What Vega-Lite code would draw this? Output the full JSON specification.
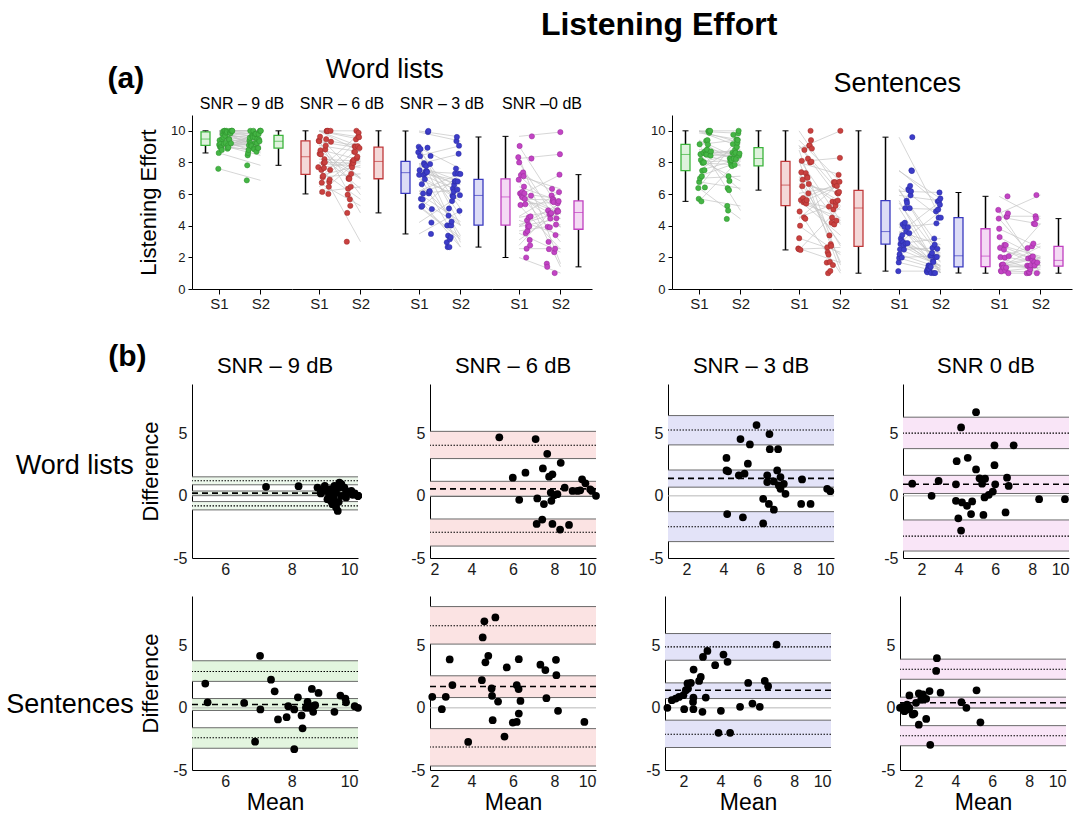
{
"$schema":"https://vega.github.io/schema/vega-lite/v6.json",
"background":"white",
"padding":{"left":6,"top":9,"right":5,"bottom":2},
"config":{"font":"Liberation Sans","view":{"stroke":null},
"axis":{"grid":false,"domainColor":"#000","labelColor":"#1a1a1a","labelFontSize":13,"titleFontSize":20,"titleFontWeight":"normal","titleColor":"#000","tickColor":"#000"},
"title":{"fontWeight":"normal","color":"#000"}},
"title":{"text":"Listening Effort","fontSize":32,"fontWeight":"bold","anchor":"middle","dx":120,"offset":14},
"datasets":{
"stats":[
{"task":"W","snr":9,"bias":0.22,"bLo":0.05,"bHi":0.39,"uLo":0.89,"u":1.21,"uHi":1.53,"lLo":-1.13,"l":-0.81,"lHi":-0.46},
{"task":"W","snr":6,"bias":0.56,"bLo":-0.05,"bHi":1.17,"uLo":3.0,"u":4.07,"uHi":5.19,"lLo":-4.04,"l":-2.93,"lHi":-1.86},
{"task":"W","snr":3,"bias":1.41,"bLo":0.7,"bHi":2.08,"uLo":4.1,"u":5.3,"uHi":6.46,"lLo":-3.68,"l":-2.49,"lHi":-1.27},
{"task":"W","snr":0,"bias":0.93,"bLo":0.19,"bHi":1.65,"uLo":3.8,"u":5.05,"uHi":6.33,"lLo":-4.44,"l":-3.24,"lHi":-1.94},
{"task":"S","snr":9,"bias":0.27,"bLo":-0.21,"bHi":0.75,"uLo":2.13,"u":2.93,"uHi":3.79,"lLo":-3.25,"l":-2.4,"lHi":-1.6},
{"task":"S","snr":6,"bias":1.72,"bLo":0.83,"bHi":2.58,"uLo":5.13,"u":6.61,"uHi":8.15,"lLo":-4.68,"l":-3.15,"lHi":-1.67},
{"task":"S","snr":3,"bias":1.42,"bLo":0.75,"bHi":2.01,"uLo":3.83,"u":4.91,"uHi":5.98,"lLo":-3.19,"l":-2.12,"lHi":-0.99},
{"task":"S","snr":0,"bias":0.41,"bLo":-0.02,"bHi":0.86,"uLo":2.3,"u":3.11,"uHi":3.92,"lLo":-3.05,"l":-2.24,"lHi":-1.43}
],
"pairs":[
{"task":"W","snr":9,"subj":1,"mean":7.23,"diff":0.73,"S1":7.6,"S2":6.87},
{"task":"W","snr":9,"subj":2,"mean":8.21,"diff":0.78,"S1":8.6,"S2":7.82},
{"task":"W","snr":9,"subj":3,"mean":8.78,"diff":0.67,"S1":9.12,"S2":8.45},
{"task":"W","snr":9,"subj":4,"mean":9.0,"diff":0.8,"S1":9.4,"S2":8.6},
{"task":"W","snr":9,"subj":5,"mean":8.88,"diff":0.19,"S1":8.98,"S2":8.79},
{"task":"W","snr":9,"subj":6,"mean":9.13,"diff":0.08,"S1":9.17,"S2":9.09},
{"task":"W","snr":9,"subj":7,"mean":9.18,"diff":-0.4,"S1":8.98,"S2":9.38},
{"task":"W","snr":9,"subj":8,"mean":9.23,"diff":-0.67,"S1":8.9,"S2":9.57},
{"task":"W","snr":9,"subj":9,"mean":9.39,"diff":-1.21,"S1":8.79,"S2":10.0},
{"task":"W","snr":9,"subj":10,"mean":9.34,"diff":0.27,"S1":9.48,"S2":9.21},
{"task":"W","snr":9,"subj":11,"mean":9.44,"diff":0.67,"S1":9.78,"S2":9.11},
{"task":"W","snr":9,"subj":12,"mean":9.5,"diff":0.94,"S1":9.97,"S2":9.03},
{"task":"W","snr":9,"subj":13,"mean":9.64,"diff":-0.13,"S1":9.58,"S2":9.71},
{"task":"W","snr":9,"subj":14,"mean":9.42,"diff":-0.48,"S1":9.18,"S2":9.66},
{"task":"W","snr":9,"subj":15,"mean":9.8,"diff":0.4,"S1":10.0,"S2":9.6},
{"task":"W","snr":9,"subj":16,"mean":10.0,"diff":0,"S1":10,"S2":10},
{"task":"W","snr":9,"subj":17,"mean":9.29,"diff":0.8,"S1":9.69,"S2":8.89},
{"task":"W","snr":9,"subj":18,"mean":9.03,"diff":0.4,"S1":9.23,"S2":8.83},
{"task":"W","snr":9,"subj":19,"mean":9.74,"diff":0.27,"S1":9.88,"S2":9.61},
{"task":"W","snr":9,"subj":20,"mean":9.9,"diff":0.2,"S1":10.0,"S2":9.8},
{"task":"W","snr":9,"subj":21,"mean":9.59,"diff":0.67,"S1":9.93,"S2":9.26},
{"task":"W","snr":9,"subj":22,"mean":9.34,"diff":-0.94,"S1":8.87,"S2":9.81},
{"task":"W","snr":9,"subj":23,"mean":8.88,"diff":0.4,"S1":9.08,"S2":8.68},
{"task":"W","snr":9,"subj":24,"mean":9.08,"diff":-0.27,"S1":8.95,"S2":9.22},
{"task":"W","snr":9,"subj":25,"mean":9.49,"diff":0,"S1":9.49,"S2":9.49},
{"task":"W","snr":9,"subj":26,"mean":9.18,"diff":0.54,"S1":9.45,"S2":8.91},
{"task":"W","snr":9,"subj":27,"mean":9.44,"diff":1.07,"S1":9.98,"S2":8.91},
{"task":"W","snr":9,"subj":28,"mean":9.84,"diff":0.08,"S1":9.88,"S2":9.8},
{"task":"W","snr":9,"subj":29,"mean":9.64,"diff":0.4,"S1":9.84,"S2":9.44},
{"task":"W","snr":9,"subj":30,"mean":9.27,"diff":-0.13,"S1":9.21,"S2":9.34},
{"task":"W","snr":9,"subj":31,"mean":10.0,"diff":0,"S1":10,"S2":10},
{"task":"W","snr":9,"subj":32,"mean":10.0,"diff":0,"S1":10,"S2":10},
{"task":"W","snr":9,"subj":33,"mean":10.0,"diff":0,"S1":10,"S2":10},
{"task":"W","snr":6,"subj":1,"mean":5.34,"diff":4.71,"S1":7.7,"S2":2.99},
{"task":"W","snr":6,"subj":2,"mean":7.09,"diff":4.57,"S1":9.38,"S2":4.81},
{"task":"W","snr":6,"subj":3,"mean":7.65,"diff":3.38,"S1":9.34,"S2":5.96},
{"task":"W","snr":6,"subj":4,"mean":7.44,"diff":2.21,"S1":8.55,"S2":6.34},
{"task":"W","snr":6,"subj":5,"mean":8.3,"diff":2.66,"S1":9.63,"S2":6.97},
{"task":"W","snr":6,"subj":6,"mean":7.9,"diff":1.73,"S1":8.77,"S2":7.04},
{"task":"W","snr":6,"subj":7,"mean":7.74,"diff":1.54,"S1":8.51,"S2":6.97},
{"task":"W","snr":6,"subj":8,"mean":6.6,"diff":1.86,"S1":7.53,"S2":5.67},
{"task":"W","snr":6,"subj":9,"mean":5.99,"diff":1.46,"S1":6.72,"S2":5.26},
{"task":"W","snr":6,"subj":10,"mean":6.3,"diff":-0.32,"S1":6.14,"S2":6.46},
{"task":"W","snr":6,"subj":11,"mean":7.17,"diff":-0.21,"S1":7.07,"S2":7.28},
{"task":"W","snr":6,"subj":12,"mean":7.49,"diff":-0.66,"S1":7.16,"S2":7.82},
{"task":"W","snr":6,"subj":13,"mean":7.82,"diff":0.27,"S1":7.96,"S2":7.69},
{"task":"W","snr":6,"subj":14,"mean":7.85,"diff":-0.4,"S1":7.65,"S2":8.05},
{"task":"W","snr":6,"subj":15,"mean":8.14,"diff":0.13,"S1":8.21,"S2":8.08},
{"task":"W","snr":6,"subj":16,"mean":7.98,"diff":0.05,"S1":8.01,"S2":7.96},
{"task":"W","snr":6,"subj":17,"mean":8.49,"diff":0.66,"S1":8.82,"S2":8.16},
{"task":"W","snr":6,"subj":18,"mean":8.87,"diff":0.4,"S1":9.07,"S2":8.67},
{"task":"W","snr":6,"subj":19,"mean":9.24,"diff":0.45,"S1":9.47,"S2":9.02},
{"task":"W","snr":6,"subj":20,"mean":9.33,"diff":1.33,"S1":9.99,"S2":8.67},
{"task":"W","snr":6,"subj":21,"mean":9.49,"diff":1.01,"S1":9.99,"S2":8.99},
{"task":"W","snr":6,"subj":22,"mean":9.72,"diff":0.53,"S1":9.99,"S2":9.46},
{"task":"W","snr":6,"subj":23,"mean":10.0,"diff":0,"S1":10,"S2":10},
{"task":"W","snr":6,"subj":24,"mean":7.14,"diff":-2.26,"S1":6.01,"S2":8.27},
{"task":"W","snr":6,"subj":25,"mean":7.41,"diff":-1.91,"S1":6.46,"S2":8.37},
{"task":"W","snr":6,"subj":26,"mean":7.9,"diff":-2.26,"S1":6.77,"S2":9.03},
{"task":"W","snr":6,"subj":27,"mean":8.27,"diff":-2.71,"S1":6.92,"S2":9.63},
{"task":"W","snr":6,"subj":28,"mean":8.7,"diff":-2.34,"S1":7.53,"S2":9.87},
{"task":"W","snr":6,"subj":29,"mean":9.8,"diff":0.4,"S1":10,"S2":9.6},
{"task":"W","snr":6,"subj":30,"mean":9.11,"diff":0.4,"S1":9.31,"S2":8.91},
{"task":"W","snr":3,"subj":1,"mean":5.8,"diff":5.7,"S1":8.65,"S2":2.95},
{"task":"W","snr":3,"subj":2,"mean":6.5,"diff":4.97,"S1":8.99,"S2":4.02},
{"task":"W","snr":3,"subj":3,"mean":4.93,"diff":4.57,"S1":7.22,"S2":2.65},
{"task":"W","snr":3,"subj":4,"mean":5.44,"diff":4.14,"S1":7.51,"S2":3.37},
{"task":"W","snr":3,"subj":5,"mean":6.52,"diff":3.76,"S1":8.4,"S2":4.64},
{"task":"W","snr":3,"subj":6,"mean":6.97,"diff":3.76,"S1":8.85,"S2":5.09},
{"task":"W","snr":3,"subj":7,"mean":4.17,"diff":3.05,"S1":5.7,"S2":2.65},
{"task":"W","snr":3,"subj":8,"mean":4.17,"diff":2.05,"S1":5.2,"S2":3.15},
{"task":"W","snr":3,"subj":9,"mean":5.33,"diff":2.59,"S1":6.63,"S2":4.04},
{"task":"W","snr":3,"subj":10,"mean":4.26,"diff":1.97,"S1":5.25,"S2":3.28},
{"task":"W","snr":3,"subj":11,"mean":4.84,"diff":1.65,"S1":5.67,"S2":4.02},
{"task":"W","snr":3,"subj":12,"mean":5.15,"diff":1.78,"S1":6.04,"S2":4.26},
{"task":"W","snr":3,"subj":13,"mean":6.38,"diff":1.65,"S1":7.21,"S2":5.56},
{"task":"W","snr":3,"subj":14,"mean":6.92,"diff":2.05,"S1":7.95,"S2":5.9},
{"task":"W","snr":3,"subj":15,"mean":7.1,"diff":1.51,"S1":7.86,"S2":6.35},
{"task":"W","snr":3,"subj":16,"mean":6.38,"diff":1.11,"S1":6.94,"S2":5.83},
{"task":"W","snr":3,"subj":17,"mean":6.74,"diff":1.16,"S1":7.32,"S2":6.16},
{"task":"W","snr":3,"subj":18,"mean":7.01,"diff":0.84,"S1":7.43,"S2":6.59},
{"task":"W","snr":3,"subj":19,"mean":7.28,"diff":0.97,"S1":7.77,"S2":6.8},
{"task":"W","snr":3,"subj":20,"mean":7.37,"diff":0.16,"S1":7.45,"S2":7.29},
{"task":"W","snr":3,"subj":21,"mean":7.1,"diff":0.57,"S1":7.39,"S2":6.82},
{"task":"W","snr":3,"subj":22,"mean":8.27,"diff":1.32,"S1":8.93,"S2":7.61},
{"task":"W","snr":3,"subj":23,"mean":9.63,"diff":0.57,"S1":9.92,"S2":9.35},
{"task":"W","snr":3,"subj":24,"mean":9.8,"diff":0.38,"S1":9.99,"S2":9.61},
{"task":"W","snr":3,"subj":25,"mean":6.16,"diff":-0.24,"S1":6.04,"S2":6.28},
{"task":"W","snr":3,"subj":26,"mean":6.47,"diff":-0.65,"S1":6.15,"S2":6.8},
{"task":"W","snr":3,"subj":27,"mean":6.74,"diff":-1.11,"S1":6.19,"S2":7.3},
{"task":"W","snr":3,"subj":28,"mean":8.22,"diff":-0.65,"S1":7.9,"S2":8.55},
{"task":"W","snr":3,"subj":29,"mean":8.73,"diff":-0.65,"S1":8.41,"S2":9.06},
{"task":"W","snr":3,"subj":30,"mean":4.21,"diff":-1.46,"S1":3.48,"S2":4.94},
{"task":"W","snr":3,"subj":31,"mean":5.06,"diff":-1.73,"S1":4.2,"S2":5.93},
{"task":"W","snr":3,"subj":32,"mean":6.16,"diff":-2.22,"S1":5.05,"S2":7.27},
{"task":"W","snr":0,"subj":1,"mean":4.96,"diff":6.73,"S1":8.33,"S2":1.6},
{"task":"W","snr":0,"subj":2,"mean":4.15,"diff":5.51,"S1":6.91,"S2":1.4},
{"task":"W","snr":0,"subj":3,"mean":5.96,"diff":4.07,"S1":8.0,"S2":3.93},
{"task":"W","snr":0,"subj":4,"mean":7.0,"diff":4.07,"S1":9.04,"S2":4.97},
{"task":"W","snr":0,"subj":5,"mean":4.51,"diff":3.06,"S1":6.04,"S2":2.98},
{"task":"W","snr":0,"subj":6,"mean":3.91,"diff":2.79,"S1":5.31,"S2":2.52},
{"task":"W","snr":0,"subj":7,"mean":5.96,"diff":2.47,"S1":7.2,"S2":4.73},
{"task":"W","snr":0,"subj":8,"mean":4.96,"diff":2.13,"S1":6.03,"S2":3.9},
{"task":"W","snr":0,"subj":9,"mean":5.15,"diff":1.41,"S1":5.86,"S2":4.45},
{"task":"W","snr":0,"subj":10,"mean":5.45,"diff":1.38,"S1":6.14,"S2":4.76},
{"task":"W","snr":0,"subj":11,"mean":5.29,"diff":0.98,"S1":5.78,"S2":4.8},
{"task":"W","snr":0,"subj":12,"mean":6.64,"diff":1.46,"S1":7.37,"S2":5.91},
{"task":"W","snr":0,"subj":13,"mean":6.73,"diff":0.8,"S1":7.13,"S2":6.33},
{"task":"W","snr":0,"subj":14,"mean":6.0,"diff":0.93,"S1":6.47,"S2":5.54},
{"task":"W","snr":0,"subj":15,"mean":5.87,"diff":0.35,"S1":6.05,"S2":5.7},
{"task":"W","snr":0,"subj":16,"mean":5.65,"diff":0.08,"S1":5.69,"S2":5.61},
{"task":"W","snr":0,"subj":17,"mean":5.42,"diff":-0.13,"S1":5.36,"S2":5.49},
{"task":"W","snr":0,"subj":18,"mean":2.93,"diff":1.2,"S1":3.53,"S2":2.33},
{"task":"W","snr":0,"subj":19,"mean":1.5,"diff":0.98,"S1":1.99,"S2":1.01},
{"task":"W","snr":0,"subj":20,"mean":2.55,"diff":0,"S1":2.55,"S2":2.55},
{"task":"W","snr":0,"subj":21,"mean":3.87,"diff":0.93,"S1":4.34,"S2":3.41},
{"task":"W","snr":0,"subj":22,"mean":3.87,"diff":-0.4,"S1":3.67,"S2":4.07},
{"task":"W","snr":0,"subj":23,"mean":4.2,"diff":-0.53,"S1":3.94,"S2":4.47},
{"task":"W","snr":0,"subj":24,"mean":4.47,"diff":-0.8,"S1":4.07,"S2":4.87},
{"task":"W","snr":0,"subj":25,"mean":4.75,"diff":-0.45,"S1":4.53,"S2":4.98},
{"task":"W","snr":0,"subj":26,"mean":4.69,"diff":-1.46,"S1":3.96,"S2":5.42},
{"task":"W","snr":0,"subj":27,"mean":4.0,"diff":-1.81,"S1":3.1,"S2":4.91},
{"task":"W","snr":0,"subj":28,"mean":4.15,"diff":-2.79,"S1":2.76,"S2":5.55},
{"task":"W","snr":0,"subj":29,"mean":5.36,"diff":-1.54,"S1":4.59,"S2":6.13},
{"task":"W","snr":0,"subj":30,"mean":6.56,"diff":-1.33,"S1":5.9,"S2":7.23},
{"task":"W","snr":0,"subj":31,"mean":8.38,"diff":-0.27,"S1":8.25,"S2":8.52},
{"task":"W","snr":0,"subj":32,"mean":9.78,"diff":-0.27,"S1":9.65,"S2":9.92},
{"task":"S","snr":9,"subj":1,"mean":5.4,"diff":1.95,"S1":6.38,"S2":4.43},
{"task":"S","snr":9,"subj":2,"mean":5.47,"diff":0.45,"S1":5.7,"S2":5.25},
{"task":"S","snr":9,"subj":3,"mean":6.57,"diff":0.4,"S1":6.77,"S2":6.37},
{"task":"S","snr":9,"subj":4,"mean":7.05,"diff":4.19,"S1":9.15,"S2":4.96},
{"task":"S","snr":9,"subj":5,"mean":7.06,"diff":-0.13,"S1":7.0,"S2":7.13},
{"task":"S","snr":9,"subj":6,"mean":7.38,"diff":2.27,"S1":8.52,"S2":6.25},
{"task":"S","snr":9,"subj":7,"mean":7.49,"diff":1.33,"S1":8.16,"S2":6.83},
{"task":"S","snr":9,"subj":8,"mean":6.9,"diff":-2.72,"S1":5.54,"S2":8.26},
{"task":"S","snr":9,"subj":9,"mean":7.59,"diff":-0.93,"S1":7.13,"S2":8.06},
{"task":"S","snr":9,"subj":10,"mean":7.85,"diff":-0.75,"S1":7.48,"S2":8.23},
{"task":"S","snr":9,"subj":11,"mean":7.9,"diff":0.13,"S1":7.97,"S2":7.84},
{"task":"S","snr":9,"subj":12,"mean":8.08,"diff":-0.13,"S1":8.02,"S2":8.15},
{"task":"S","snr":9,"subj":13,"mean":8.19,"diff":0.85,"S1":8.62,"S2":7.77},
{"task":"S","snr":9,"subj":14,"mean":8.3,"diff":-0.61,"S1":8.0,"S2":8.61},
{"task":"S","snr":9,"subj":15,"mean":8.33,"diff":-1.65,"S1":7.51,"S2":9.16},
{"task":"S","snr":9,"subj":16,"mean":8.08,"diff":-3.33,"S1":6.42,"S2":9.75},
{"task":"S","snr":9,"subj":17,"mean":8.48,"diff":0.48,"S1":8.72,"S2":8.24},
{"task":"S","snr":9,"subj":18,"mean":8.53,"diff":0,"S1":8.53,"S2":8.53},
{"task":"S","snr":9,"subj":19,"mean":8.61,"diff":1.52,"S1":9.37,"S2":7.85},
{"task":"S","snr":9,"subj":20,"mean":8.65,"diff":-0.32,"S1":8.49,"S2":8.81},
{"task":"S","snr":9,"subj":21,"mean":8.71,"diff":0.21,"S1":8.82,"S2":8.61},
{"task":"S","snr":9,"subj":22,"mean":8.81,"diff":1.2,"S1":9.41,"S2":8.21},
{"task":"S","snr":9,"subj":23,"mean":9.29,"diff":-0.32,"S1":9.13,"S2":9.45},
{"task":"S","snr":9,"subj":24,"mean":9.47,"diff":0.99,"S1":9.97,"S2":8.98},
{"task":"S","snr":9,"subj":25,"mean":9.62,"diff":0.75,"S1":10.0,"S2":9.25},
{"task":"S","snr":9,"subj":26,"mean":9.64,"diff":0.45,"S1":9.87,"S2":9.42},
{"task":"S","snr":9,"subj":27,"mean":9.9,"diff":0.13,"S1":9.97,"S2":9.84},
{"task":"S","snr":9,"subj":28,"mean":10.0,"diff":0,"S1":10,"S2":10},
{"task":"S","snr":9,"subj":29,"mean":8.43,"diff":0,"S1":8.43,"S2":8.43},
{"task":"S","snr":9,"subj":30,"mean":8.63,"diff":0.13,"S1":8.7,"S2":8.57},
{"task":"S","snr":6,"subj":1,"mean":2.11,"diff":0.89,"S1":2.56,"S2":1.67},
{"task":"S","snr":6,"subj":2,"mean":2.57,"diff":-0.11,"S1":2.52,"S2":2.63},
{"task":"S","snr":6,"subj":3,"mean":2.76,"diff":0.89,"S1":3.21,"S2":2.32},
{"task":"S","snr":6,"subj":4,"mean":2.95,"diff":3.9,"S1":4.9,"S2":1.0},
{"task":"S","snr":6,"subj":5,"mean":3.08,"diff":1.83,"S1":4.0,"S2":2.17},
{"task":"S","snr":6,"subj":6,"mean":3.84,"diff":-2.74,"S1":2.47,"S2":5.21},
{"task":"S","snr":6,"subj":7,"mean":4.5,"diff":2.23,"S1":5.62,"S2":3.39},
{"task":"S","snr":6,"subj":8,"mean":4.54,"diff":5.67,"S1":7.38,"S2":1.71},
{"task":"S","snr":6,"subj":9,"mean":4.62,"diff":6.96,"S1":8.1,"S2":1.14},
{"task":"S","snr":6,"subj":10,"mean":4.67,"diff":3.66,"S1":6.5,"S2":2.84},
{"task":"S","snr":6,"subj":11,"mean":4.81,"diff":4.19,"S1":6.91,"S2":2.72},
{"task":"S","snr":6,"subj":12,"mean":4.97,"diff":1.56,"S1":5.75,"S2":4.19},
{"task":"S","snr":6,"subj":13,"mean":4.99,"diff":0.97,"S1":5.48,"S2":4.51},
{"task":"S","snr":6,"subj":14,"mean":5.02,"diff":-0.99,"S1":4.53,"S2":5.52},
{"task":"S","snr":6,"subj":15,"mean":5.15,"diff":7.28,"S1":8.79,"S2":1.51},
{"task":"S","snr":6,"subj":16,"mean":5.28,"diff":0.51,"S1":5.54,"S2":5.03},
{"task":"S","snr":6,"subj":17,"mean":5.59,"diff":-2.31,"S1":4.44,"S2":6.75},
{"task":"S","snr":6,"subj":18,"mean":5.7,"diff":3.25,"S1":7.33,"S2":4.08},
{"task":"S","snr":6,"subj":19,"mean":5.99,"diff":-1.18,"S1":5.4,"S2":6.58},
{"task":"S","snr":6,"subj":20,"mean":6.18,"diff":-1.13,"S1":5.62,"S2":6.75},
{"task":"S","snr":6,"subj":21,"mean":6.18,"diff":1.83,"S1":7.1,"S2":5.27},
{"task":"S","snr":6,"subj":22,"mean":6.27,"diff":1.51,"S1":7.03,"S2":5.52},
{"task":"S","snr":6,"subj":23,"mean":6.28,"diff":3.92,"S1":8.24,"S2":4.32},
{"task":"S","snr":6,"subj":24,"mean":6.28,"diff":-0.46,"S1":6.05,"S2":6.51},
{"task":"S","snr":6,"subj":25,"mean":6.36,"diff":0.56,"S1":6.64,"S2":6.08},
{"task":"S","snr":6,"subj":26,"mean":7.32,"diff":3.47,"S1":9.06,"S2":5.59},
{"task":"S","snr":6,"subj":27,"mean":7.56,"diff":3.04,"S1":9.08,"S2":6.04},
{"task":"S","snr":6,"subj":28,"mean":7.61,"diff":0.78,"S1":8.0,"S2":7.22},
{"task":"S","snr":6,"subj":29,"mean":8.07,"diff":3.87,"S1":10.0,"S2":6.14},
{"task":"S","snr":6,"subj":30,"mean":8.09,"diff":2.63,"S1":9.41,"S2":6.78},
{"task":"S","snr":6,"subj":31,"mean":8.17,"diff":-0.24,"S1":8.05,"S2":8.29},
{"task":"S","snr":6,"subj":32,"mean":9.44,"diff":-1.13,"S1":8.88,"S2":10.0},
{"task":"S","snr":3,"subj":1,"mean":1.13,"diff":0,"S1":1.13,"S2":1.13},
{"task":"S","snr":3,"subj":2,"mean":1.37,"diff":0.62,"S1":1.68,"S2":1.06},
{"task":"S","snr":3,"subj":3,"mean":1.58,"diff":0.75,"S1":1.96,"S2":1.21},
{"task":"S","snr":3,"subj":4,"mean":1.76,"diff":0.88,"S1":2.2,"S2":1.32},
{"task":"S","snr":3,"subj":5,"mean":2.0,"diff":1.02,"S1":2.51,"S2":1.49},
{"task":"S","snr":3,"subj":6,"mean":2.13,"diff":1.42,"S1":2.84,"S2":1.42},
{"task":"S","snr":3,"subj":7,"mean":2.22,"diff":1.96,"S1":3.2,"S2":1.24},
{"task":"S","snr":3,"subj":8,"mean":2.25,"diff":1.55,"S1":3.03,"S2":1.48},
{"task":"S","snr":3,"subj":9,"mean":2.04,"diff":-0.11,"S1":1.99,"S2":2.1},
{"task":"S","snr":3,"subj":10,"mean":2.4,"diff":2.01,"S1":3.41,"S2":1.4},
{"task":"S","snr":3,"subj":11,"mean":2.55,"diff":3.08,"S1":4.09,"S2":1.01},
{"task":"S","snr":3,"subj":12,"mean":2.54,"diff":0.83,"S1":2.96,"S2":2.13},
{"task":"S","snr":3,"subj":13,"mean":2.52,"diff":0.48,"S1":2.76,"S2":2.28},
{"task":"S","snr":3,"subj":14,"mean":2.54,"diff":-0.11,"S1":2.49,"S2":2.6},
{"task":"S","snr":3,"subj":15,"mean":2.85,"diff":2.17,"S1":3.94,"S2":1.77},
{"task":"S","snr":3,"subj":16,"mean":2.94,"diff":2.49,"S1":4.19,"S2":1.7},
{"task":"S","snr":3,"subj":17,"mean":3.06,"diff":4.1,"S1":5.11,"S2":1.01},
{"task":"S","snr":3,"subj":18,"mean":3.03,"diff":-0.32,"S1":2.87,"S2":3.19},
{"task":"S","snr":3,"subj":19,"mean":3.21,"diff":0.83,"S1":3.63,"S2":2.8},
{"task":"S","snr":3,"subj":20,"mean":3.3,"diff":4.58,"S1":5.59,"S2":1.01},
{"task":"S","snr":3,"subj":21,"mean":3.72,"diff":3.43,"S1":5.44,"S2":2.01},
{"task":"S","snr":3,"subj":22,"mean":3.9,"diff":-2.01,"S1":2.9,"S2":4.91},
{"task":"S","snr":3,"subj":23,"mean":4.03,"diff":-0.24,"S1":3.91,"S2":4.15},
{"task":"S","snr":3,"subj":24,"mean":4.17,"diff":4.29,"S1":6.32,"S2":2.03},
{"task":"S","snr":3,"subj":25,"mean":4.39,"diff":3.7,"S1":6.24,"S2":2.54},
{"task":"S","snr":3,"subj":26,"mean":4.53,"diff":-2.01,"S1":3.53,"S2":5.54},
{"task":"S","snr":3,"subj":27,"mean":5.07,"diff":0.08,"S1":5.11,"S2":5.03},
{"task":"S","snr":3,"subj":28,"mean":5.51,"diff":2.01,"S1":6.52,"S2":4.51},
{"task":"S","snr":3,"subj":29,"mean":5.74,"diff":0.35,"S1":5.92,"S2":5.57},
{"task":"S","snr":3,"subj":30,"mean":6.14,"diff":0.08,"S1":6.18,"S2":6.1},
{"task":"S","snr":3,"subj":31,"mean":6.41,"diff":2.17,"S1":7.5,"S2":5.33},
{"task":"S","snr":3,"subj":32,"mean":6.59,"diff":1.74,"S1":7.46,"S2":5.72},
{"task":"S","snr":3,"subj":33,"mean":7.05,"diff":5.09,"S1":9.6,"S2":4.51},
{"task":"S","snr":0,"subj":1,"mean":3.0,"diff":4.0,"S1":5.0,"S2":1.0},
{"task":"S","snr":0,"subj":2,"mean":2.96,"diff":2.97,"S1":4.45,"S2":1.48},
{"task":"S","snr":0,"subj":3,"mean":3.2,"diff":1.22,"S1":3.81,"S2":2.59},
{"task":"S","snr":0,"subj":4,"mean":2.6,"diff":1.35,"S1":3.28,"S2":1.93},
{"task":"S","snr":0,"subj":5,"mean":2.02,"diff":1.16,"S1":2.6,"S2":1.44},
{"task":"S","snr":0,"subj":6,"mean":1.51,"diff":1.0,"S1":2.01,"S2":1.01},
{"task":"S","snr":0,"subj":7,"mean":1.11,"diff":0.08,"S1":1.15,"S2":1.07},
{"task":"S","snr":0,"subj":8,"mean":1.24,"diff":-0.27,"S1":1.11,"S2":1.38},
{"task":"S","snr":0,"subj":9,"mean":1.38,"diff":0.27,"S1":1.52,"S2":1.25},
{"task":"S","snr":0,"subj":10,"mean":1.51,"diff":0,"S1":1.51,"S2":1.51},
{"task":"S","snr":0,"subj":11,"mean":1.69,"diff":-0.54,"S1":1.42,"S2":1.96},
{"task":"S","snr":0,"subj":12,"mean":1.78,"diff":-0.46,"S1":1.55,"S2":2.01},
{"task":"S","snr":0,"subj":13,"mean":2.02,"diff":-1.35,"S1":1.35,"S2":2.7},
{"task":"S","snr":0,"subj":14,"mean":2.15,"diff":0.68,"S1":2.49,"S2":1.81},
{"task":"S","snr":0,"subj":15,"mean":2.42,"diff":0.73,"S1":2.79,"S2":2.06},
{"task":"S","snr":0,"subj":16,"mean":2.42,"diff":-0.89,"S1":1.98,"S2":2.87},
{"task":"S","snr":0,"subj":17,"mean":2.64,"diff":-2.97,"S1":1.16,"S2":4.13},
{"task":"S","snr":0,"subj":18,"mean":2.24,"diff":1.08,"S1":2.78,"S2":1.7},
{"task":"S","snr":0,"subj":19,"mean":1.42,"diff":-0.14,"S1":1.35,"S2":1.49},
{"task":"S","snr":0,"subj":20,"mean":4.33,"diff":0.46,"S1":4.56,"S2":4.1},
{"task":"S","snr":0,"subj":21,"mean":4.6,"diff":0,"S1":4.6,"S2":4.6},
{"task":"S","snr":0,"subj":22,"mean":5.15,"diff":1.41,"S1":5.86,"S2":4.45},
{"task":"S","snr":0,"subj":23,"mean":5.36,"diff":-1.16,"S1":4.78,"S2":5.94},
{"task":"S","snr":0,"subj":24,"mean":1.0,"diff":0,"S1":1.0,"S2":1.0},
{"task":"S","snr":0,"subj":25,"mean":1.87,"diff":0.41,"S1":2.08,"S2":1.67}
]},
"spacing":31,
"vconcat":[
{"spacing":58,
 "title":{"text":"(a)","anchor":"start","fontSize":30,"fontWeight":"bold","offset":-38,"dx":-30},
 "hconcat":[
 {"spacing":0,"title":{"text":"Word lists","anchor":"middle","fontSize":27,"offset":12,"dx":20},
  "hconcat":[
  {"width":100,"height":174,"title":{"text":"SNR – 9 dB","fontSize":16,"frame":"group","offset":3},
   "data":{"name":"pairs"},"transform":[{"filter":"datum.task == 'W' && datum.snr == 9"},{"fold":["S1","S2"],"as":["session","value"]}],
   "encoding":{"y":{"field":"value","type":"quantitative","scale":{"domain":[0,11],"nice":false},"axis":{"values":[0,2,4,6,8,10],"title":"Listening Effort","titleFontSize":22,"titlePadding":10,"tickSize":4,"labelPadding":3}}},
   "layer":[
    {"mark":{"type":"line","color":"#c4c4c4","strokeWidth":0.7},"encoding":{"x":{"field":"session","type":"nominal","scale":{"type":"point","domain":["S1","S2"],"padding":0.705,"align":0.4615},"axis":{"title":null,"labelAngle":0,"labelFontSize":15,"tickSize":5,"labelPadding":2}},"detail":{"field":"subj","type":"nominal"}}},
    {"mark":{"type":"boxplot","size":9,"outliers":false,"box":{"fill":"#dff2dd","stroke":"#3cb43c","strokeWidth":1.3},"median":{"color":"#3cb43c","strokeWidth":1.3},"rule":{"color":"#000","strokeWidth":1.5},"ticks":{"color":"#000","size":6,"strokeWidth":1.5}},"encoding":{"x":{"field":"session","type":"nominal","scale":{"type":"band","domain":["S1","S2"],"paddingInner":0.877,"paddingOuter":0.1235,"align":0.5},"axis":null}}},
    {"mark":{"type":"circle","size":28,"color":"#45b545","stroke":"#2a8f2a","strokeWidth":0.5,"opacity":1},"encoding":{"x":{"field":"session","type":"nominal","scale":{"type":"band","domain":["S1","S2"],"paddingInner":0.491,"paddingOuter":1.064,"align":0.4615},"axis":null},"xOffset":{"field":"subj","type":"quantitative","scale":{"range":[0,14]}}}}
   ],
   "resolve":{"scale":{"x":"independent"},"axis":{"x":"independent"}}},
  {"width":100,"height":174,"title":{"text":"SNR – 6 dB","fontSize":16,"frame":"group","offset":3},
   "data":{"name":"pairs"},"transform":[{"filter":"datum.task == 'W' && datum.snr == 6"},{"fold":["S1","S2"],"as":["session","value"]}],
   "encoding":{"y":{"field":"value","type":"quantitative","scale":{"domain":[0,11],"nice":false},"axis":null}},
   "layer":[
    {"mark":{"type":"line","color":"#c4c4c4","strokeWidth":0.7},"encoding":{"x":{"field":"session","type":"nominal","scale":{"type":"point","domain":["S1","S2"],"padding":0.705,"align":0.4615},"axis":{"title":null,"labelAngle":0,"labelFontSize":15,"tickSize":5,"labelPadding":2}},"detail":{"field":"subj","type":"nominal"}}},
    {"mark":{"type":"boxplot","size":9,"outliers":false,"box":{"fill":"#f4d8d8","stroke":"#c0393b","strokeWidth":1.3},"median":{"color":"#c0393b","strokeWidth":1.3},"rule":{"color":"#000","strokeWidth":1.5},"ticks":{"color":"#000","size":6,"strokeWidth":1.5}},"encoding":{"x":{"field":"session","type":"nominal","scale":{"type":"band","domain":["S1","S2"],"paddingInner":0.877,"paddingOuter":0.1235,"align":0.5},"axis":null}}},
    {"mark":{"type":"circle","size":28,"color":"#c9413f","stroke":"#9e2a2a","strokeWidth":0.5,"opacity":1},"encoding":{"x":{"field":"session","type":"nominal","scale":{"type":"band","domain":["S1","S2"],"paddingInner":0.491,"paddingOuter":1.064,"align":0.4615},"axis":null},"xOffset":{"field":"subj","type":"quantitative","scale":{"range":[0,14]}}}}
   ],
   "resolve":{"scale":{"x":"independent"},"axis":{"x":"independent"}}},
  {"width":100,"height":174,"title":{"text":"SNR – 3 dB","fontSize":16,"frame":"group","offset":3},
   "data":{"name":"pairs"},"transform":[{"filter":"datum.task == 'W' && datum.snr == 3"},{"fold":["S1","S2"],"as":["session","value"]}],
   "encoding":{"y":{"field":"value","type":"quantitative","scale":{"domain":[0,11],"nice":false},"axis":null}},
   "layer":[
    {"mark":{"type":"line","color":"#c4c4c4","strokeWidth":0.7},"encoding":{"x":{"field":"session","type":"nominal","scale":{"type":"point","domain":["S1","S2"],"padding":0.705,"align":0.4615},"axis":{"title":null,"labelAngle":0,"labelFontSize":15,"tickSize":5,"labelPadding":2}},"detail":{"field":"subj","type":"nominal"}}},
    {"mark":{"type":"boxplot","size":9,"outliers":false,"box":{"fill":"#dcdcf6","stroke":"#3a3ac0","strokeWidth":1.3},"median":{"color":"#3a3ac0","strokeWidth":1.3},"rule":{"color":"#000","strokeWidth":1.5},"ticks":{"color":"#000","size":6,"strokeWidth":1.5}},"encoding":{"x":{"field":"session","type":"nominal","scale":{"type":"band","domain":["S1","S2"],"paddingInner":0.877,"paddingOuter":0.1235,"align":0.5},"axis":null}}},
    {"mark":{"type":"circle","size":28,"color":"#3d3dc9","stroke":"#2a2a9e","strokeWidth":0.5,"opacity":1},"encoding":{"x":{"field":"session","type":"nominal","scale":{"type":"band","domain":["S1","S2"],"paddingInner":0.491,"paddingOuter":1.064,"align":0.4615},"axis":null},"xOffset":{"field":"subj","type":"quantitative","scale":{"range":[0,14]}}}}
   ],
   "resolve":{"scale":{"x":"independent"},"axis":{"x":"independent"}}},
  {"width":100,"height":174,"title":{"text":"SNR –0 dB","fontSize":16,"frame":"group","offset":3},
   "data":{"name":"pairs"},"transform":[{"filter":"datum.task == 'W' && datum.snr == 0"},{"fold":["S1","S2"],"as":["session","value"]}],
   "encoding":{"y":{"field":"value","type":"quantitative","scale":{"domain":[0,11],"nice":false},"axis":null}},
   "layer":[
    {"mark":{"type":"line","color":"#c4c4c4","strokeWidth":0.7},"encoding":{"x":{"field":"session","type":"nominal","scale":{"type":"point","domain":["S1","S2"],"padding":0.705,"align":0.4615},"axis":{"title":null,"labelAngle":0,"labelFontSize":15,"tickSize":5,"labelPadding":2}},"detail":{"field":"subj","type":"nominal"}}},
    {"mark":{"type":"boxplot","size":9,"outliers":false,"box":{"fill":"#f4daf4","stroke":"#c040c0","strokeWidth":1.3},"median":{"color":"#c040c0","strokeWidth":1.3},"rule":{"color":"#000","strokeWidth":1.5},"ticks":{"color":"#000","size":6,"strokeWidth":1.5}},"encoding":{"x":{"field":"session","type":"nominal","scale":{"type":"band","domain":["S1","S2"],"paddingInner":0.877,"paddingOuter":0.1235,"align":0.5},"axis":null}}},
    {"mark":{"type":"circle","size":28,"color":"#c244c4","stroke":"#962a99","strokeWidth":0.5,"opacity":1},"encoding":{"x":{"field":"session","type":"nominal","scale":{"type":"band","domain":["S1","S2"],"paddingInner":0.491,"paddingOuter":1.064,"align":0.4615},"axis":null},"xOffset":{"field":"subj","type":"quantitative","scale":{"range":[0,14]}}}}
   ],
   "resolve":{"scale":{"x":"independent"},"axis":{"x":"independent"}}}
  ]},
 {"spacing":0,"title":{"text":"Sentences","anchor":"middle","fontSize":27,"offset":17,"dx":36},
  "hconcat":[
  {"width":100,"height":174,
   "data":{"name":"pairs"},"transform":[{"filter":"datum.task == 'S' && datum.snr == 9"},{"fold":["S1","S2"],"as":["session","value"]}],
   "encoding":{"y":{"field":"value","type":"quantitative","scale":{"domain":[0,11],"nice":false},"axis":{"values":[0,2,4,6,8,10],"title":null,"tickSize":4,"labelPadding":3}}},
   "layer":[
    {"mark":{"type":"line","color":"#c4c4c4","strokeWidth":0.7},"encoding":{"x":{"field":"session","type":"nominal","scale":{"type":"point","domain":["S1","S2"],"padding":0.705,"align":0.4615},"axis":{"title":null,"labelAngle":0,"labelFontSize":15,"tickSize":5,"labelPadding":2}},"detail":{"field":"subj","type":"nominal"}}},
    {"mark":{"type":"boxplot","size":9,"outliers":false,"box":{"fill":"#dff2dd","stroke":"#3cb43c","strokeWidth":1.3},"median":{"color":"#3cb43c","strokeWidth":1.3},"rule":{"color":"#000","strokeWidth":1.5},"ticks":{"color":"#000","size":6,"strokeWidth":1.5}},"encoding":{"x":{"field":"session","type":"nominal","scale":{"type":"band","domain":["S1","S2"],"paddingInner":0.877,"paddingOuter":0.1235,"align":0.5},"axis":null}}},
    {"mark":{"type":"circle","size":28,"color":"#45b545","stroke":"#2a8f2a","strokeWidth":0.5,"opacity":1},"encoding":{"x":{"field":"session","type":"nominal","scale":{"type":"band","domain":["S1","S2"],"paddingInner":0.491,"paddingOuter":1.064,"align":0.4615},"axis":null},"xOffset":{"field":"subj","type":"quantitative","scale":{"range":[0,14]}}}}
   ],
   "resolve":{"scale":{"x":"independent"},"axis":{"x":"independent"}}},
  {"width":100,"height":174,
   "data":{"name":"pairs"},"transform":[{"filter":"datum.task == 'S' && datum.snr == 6"},{"fold":["S1","S2"],"as":["session","value"]}],
   "encoding":{"y":{"field":"value","type":"quantitative","scale":{"domain":[0,11],"nice":false},"axis":null}},
   "layer":[
    {"mark":{"type":"line","color":"#c4c4c4","strokeWidth":0.7},"encoding":{"x":{"field":"session","type":"nominal","scale":{"type":"point","domain":["S1","S2"],"padding":0.705,"align":0.4615},"axis":{"title":null,"labelAngle":0,"labelFontSize":15,"tickSize":5,"labelPadding":2}},"detail":{"field":"subj","type":"nominal"}}},
    {"mark":{"type":"boxplot","size":9,"outliers":false,"box":{"fill":"#f4d8d8","stroke":"#c0393b","strokeWidth":1.3},"median":{"color":"#c0393b","strokeWidth":1.3},"rule":{"color":"#000","strokeWidth":1.5},"ticks":{"color":"#000","size":6,"strokeWidth":1.5}},"encoding":{"x":{"field":"session","type":"nominal","scale":{"type":"band","domain":["S1","S2"],"paddingInner":0.877,"paddingOuter":0.1235,"align":0.5},"axis":null}}},
    {"mark":{"type":"circle","size":28,"color":"#c9413f","stroke":"#9e2a2a","strokeWidth":0.5,"opacity":1},"encoding":{"x":{"field":"session","type":"nominal","scale":{"type":"band","domain":["S1","S2"],"paddingInner":0.491,"paddingOuter":1.064,"align":0.4615},"axis":null},"xOffset":{"field":"subj","type":"quantitative","scale":{"range":[0,14]}}}}
   ],
   "resolve":{"scale":{"x":"independent"},"axis":{"x":"independent"}}},
  {"width":100,"height":174,
   "data":{"name":"pairs"},"transform":[{"filter":"datum.task == 'S' && datum.snr == 3"},{"fold":["S1","S2"],"as":["session","value"]}],
   "encoding":{"y":{"field":"value","type":"quantitative","scale":{"domain":[0,11],"nice":false},"axis":null}},
   "layer":[
    {"mark":{"type":"line","color":"#c4c4c4","strokeWidth":0.7},"encoding":{"x":{"field":"session","type":"nominal","scale":{"type":"point","domain":["S1","S2"],"padding":0.705,"align":0.4615},"axis":{"title":null,"labelAngle":0,"labelFontSize":15,"tickSize":5,"labelPadding":2}},"detail":{"field":"subj","type":"nominal"}}},
    {"mark":{"type":"boxplot","size":9,"outliers":false,"box":{"fill":"#dcdcf6","stroke":"#3a3ac0","strokeWidth":1.3},"median":{"color":"#3a3ac0","strokeWidth":1.3},"rule":{"color":"#000","strokeWidth":1.5},"ticks":{"color":"#000","size":6,"strokeWidth":1.5}},"encoding":{"x":{"field":"session","type":"nominal","scale":{"type":"band","domain":["S1","S2"],"paddingInner":0.877,"paddingOuter":0.1235,"align":0.5},"axis":null}}},
    {"mark":{"type":"circle","size":28,"color":"#3d3dc9","stroke":"#2a2a9e","strokeWidth":0.5,"opacity":1},"encoding":{"x":{"field":"session","type":"nominal","scale":{"type":"band","domain":["S1","S2"],"paddingInner":0.491,"paddingOuter":1.064,"align":0.4615},"axis":null},"xOffset":{"field":"subj","type":"quantitative","scale":{"range":[0,14]}}}}
   ],
   "resolve":{"scale":{"x":"independent"},"axis":{"x":"independent"}}},
  {"width":100,"height":174,
   "data":{"name":"pairs"},"transform":[{"filter":"datum.task == 'S' && datum.snr == 0"},{"fold":["S1","S2"],"as":["session","value"]}],
   "encoding":{"y":{"field":"value","type":"quantitative","scale":{"domain":[0,11],"nice":false},"axis":null}},
   "layer":[
    {"mark":{"type":"line","color":"#c4c4c4","strokeWidth":0.7},"encoding":{"x":{"field":"session","type":"nominal","scale":{"type":"point","domain":["S1","S2"],"padding":0.705,"align":0.4615},"axis":{"title":null,"labelAngle":0,"labelFontSize":15,"tickSize":5,"labelPadding":2}},"detail":{"field":"subj","type":"nominal"}}},
    {"mark":{"type":"boxplot","size":9,"outliers":false,"box":{"fill":"#f4daf4","stroke":"#c040c0","strokeWidth":1.3},"median":{"color":"#c040c0","strokeWidth":1.3},"rule":{"color":"#000","strokeWidth":1.5},"ticks":{"color":"#000","size":6,"strokeWidth":1.5}},"encoding":{"x":{"field":"session","type":"nominal","scale":{"type":"band","domain":["S1","S2"],"paddingInner":0.877,"paddingOuter":0.1235,"align":0.5},"axis":null}}},
    {"mark":{"type":"circle","size":28,"color":"#c244c4","stroke":"#962a99","strokeWidth":0.5,"opacity":1},"encoding":{"x":{"field":"session","type":"nominal","scale":{"type":"band","domain":["S1","S2"],"paddingInner":0.491,"paddingOuter":1.064,"align":0.4615},"axis":null},"xOffset":{"field":"subj","type":"quantitative","scale":{"range":[0,14]}}}}
   ],
   "resolve":{"scale":{"x":"independent"},"axis":{"x":"independent"}}}
  ]}
 ]},
{"spacing":19,
 "title":{"text":"(b)","anchor":"start","fontSize":30,"fontWeight":"bold","offset":-17,"dx":102},
 "vconcat":[
 {"spacing":48,
  "title":{"text":"Word lists","orient":"left","angle":0,"align":"left","baseline":"middle","anchor":"middle","fontSize":27,"offset":6},
  "hconcat":[
  {"width":166,"height":174,"title":{"text":"SNR – 9 dB","fontSize":22,"frame":"group","offset":6},
   "layer":[
    {"data":{"name":"stats"},"transform":[{"filter":"datum.task == 'W' && datum.snr == 9"}],"mark":{"type":"rect","color":"#edf8ec"},"encoding":{"y":{"field":"uLo","type":"quantitative","scale":{"domain":[-5,9],"nice":false,"zero":false},"axis":{"values":[-5,0,5],"labelExpr":"''+datum.value","ticks":false,"labelPadding":5,"labelFontSize":16,"title":"Difference","titleFontSize":22,"titlePadding":10}},"y2":{"field":"uHi"}}},
    {"data":{"name":"stats"},"transform":[{"filter":"datum.task == 'W' && datum.snr == 9"}],"mark":{"type":"rect","color":"#edf8ec"},"encoding":{"y":{"field":"bLo","type":"quantitative","scale":{"domain":[-5,9],"nice":false,"zero":false},"axis":{"values":[-5,0,5],"labelExpr":"''+datum.value","ticks":false,"labelPadding":5,"labelFontSize":16,"title":"Difference","titleFontSize":22,"titlePadding":10}},"y2":{"field":"bHi"}}},
    {"data":{"name":"stats"},"transform":[{"filter":"datum.task == 'W' && datum.snr == 9"}],"mark":{"type":"rect","color":"#edf8ec"},"encoding":{"y":{"field":"lLo","type":"quantitative","scale":{"domain":[-5,9],"nice":false,"zero":false},"axis":{"values":[-5,0,5],"labelExpr":"''+datum.value","ticks":false,"labelPadding":5,"labelFontSize":16,"title":"Difference","titleFontSize":22,"titlePadding":10}},"y2":{"field":"lHi"}}},
    {"data":{"name":"stats"},"transform":[{"filter":"datum.task == 'W' && datum.snr == 9"}],"mark":{"type":"rule","color":"#b8b8b8","strokeWidth":1},"encoding":{"y":{"datum":0,"type":"quantitative","scale":{"domain":[-5,9],"nice":false,"zero":false},"axis":{"values":[-5,0,5],"labelExpr":"''+datum.value","ticks":false,"labelPadding":5,"labelFontSize":16,"title":"Difference","titleFontSize":22,"titlePadding":10}}}},
    {"data":{"name":"stats"},"transform":[{"filter":"datum.task == 'W' && datum.snr == 9"},{"fold":["uLo","uHi","bLo","bHi","lLo","lHi"],"as":["k","v"]}],"mark":{"type":"rule","color":"#5a5a5a","strokeWidth":0.9},"encoding":{"y":{"field":"v","type":"quantitative","scale":{"domain":[-5,9],"nice":false,"zero":false},"axis":{"values":[-5,0,5],"labelExpr":"''+datum.value","ticks":false,"labelPadding":5,"labelFontSize":16,"title":"Difference","titleFontSize":22,"titlePadding":10}}}},
    {"data":{"name":"stats"},"transform":[{"filter":"datum.task == 'W' && datum.snr == 9"},{"fold":["u","l"],"as":["k","v"]}],"mark":{"type":"rule","color":"#000","strokeDash":[1.5,1.5],"strokeWidth":1.1},"encoding":{"y":{"field":"v","type":"quantitative","scale":{"domain":[-5,9],"nice":false,"zero":false},"axis":{"values":[-5,0,5],"labelExpr":"''+datum.value","ticks":false,"labelPadding":5,"labelFontSize":16,"title":"Difference","titleFontSize":22,"titlePadding":10}}}},
    {"data":{"name":"stats"},"transform":[{"filter":"datum.task == 'W' && datum.snr == 9"}],"mark":{"type":"rule","color":"#000","strokeDash":[6,4],"strokeWidth":1.6},"encoding":{"y":{"field":"bias","type":"quantitative","scale":{"domain":[-5,9],"nice":false,"zero":false},"axis":{"values":[-5,0,5],"labelExpr":"''+datum.value","ticks":false,"labelPadding":5,"labelFontSize":16,"title":"Difference","titleFontSize":22,"titlePadding":10}}}},
    {"data":{"name":"pairs"},"transform":[{"filter":"datum.task == 'W' && datum.snr == 9"}],"mark":{"type":"circle","size":60,"color":"#000","opacity":1},"encoding":{"x":{"field":"mean","type":"quantitative","scale":{"domain":[5,10],"nice":false,"zero":false},"axis":{"values":[6,8,10],"ticks":false,"labelPadding":3,"labelFontSize":16,"title":null}},"y":{"field":"diff","type":"quantitative","scale":{"domain":[-5,9],"nice":false,"zero":false},"axis":{"values":[-5,0,5],"labelExpr":"''+datum.value","ticks":false,"labelPadding":5,"labelFontSize":16,"title":"Difference","titleFontSize":22,"titlePadding":10}}}}
   ]},
  {"width":166,"height":174,"title":{"text":"SNR – 6 dB","fontSize":22,"frame":"group","offset":6},
   "layer":[
    {"data":{"name":"stats"},"transform":[{"filter":"datum.task == 'W' && datum.snr == 6"}],"mark":{"type":"rect","color":"#fbe3e3"},"encoding":{"y":{"field":"uLo","type":"quantitative","scale":{"domain":[-5,9],"nice":false,"zero":false},"axis":{"values":[-5,0,5],"labelExpr":"''+datum.value","ticks":false,"labelPadding":5,"labelFontSize":16,"title":null}},"y2":{"field":"uHi"}}},
    {"data":{"name":"stats"},"transform":[{"filter":"datum.task == 'W' && datum.snr == 6"}],"mark":{"type":"rect","color":"#fbe3e3"},"encoding":{"y":{"field":"bLo","type":"quantitative","scale":{"domain":[-5,9],"nice":false,"zero":false},"axis":{"values":[-5,0,5],"labelExpr":"''+datum.value","ticks":false,"labelPadding":5,"labelFontSize":16,"title":null}},"y2":{"field":"bHi"}}},
    {"data":{"name":"stats"},"transform":[{"filter":"datum.task == 'W' && datum.snr == 6"}],"mark":{"type":"rect","color":"#fbe3e3"},"encoding":{"y":{"field":"lLo","type":"quantitative","scale":{"domain":[-5,9],"nice":false,"zero":false},"axis":{"values":[-5,0,5],"labelExpr":"''+datum.value","ticks":false,"labelPadding":5,"labelFontSize":16,"title":null}},"y2":{"field":"lHi"}}},
    {"data":{"name":"stats"},"transform":[{"filter":"datum.task == 'W' && datum.snr == 6"}],"mark":{"type":"rule","color":"#b8b8b8","strokeWidth":1},"encoding":{"y":{"datum":0,"type":"quantitative","scale":{"domain":[-5,9],"nice":false,"zero":false},"axis":{"values":[-5,0,5],"labelExpr":"''+datum.value","ticks":false,"labelPadding":5,"labelFontSize":16,"title":null}}}},
    {"data":{"name":"stats"},"transform":[{"filter":"datum.task == 'W' && datum.snr == 6"},{"fold":["uLo","uHi","bLo","bHi","lLo","lHi"],"as":["k","v"]}],"mark":{"type":"rule","color":"#5a5a5a","strokeWidth":0.9},"encoding":{"y":{"field":"v","type":"quantitative","scale":{"domain":[-5,9],"nice":false,"zero":false},"axis":{"values":[-5,0,5],"labelExpr":"''+datum.value","ticks":false,"labelPadding":5,"labelFontSize":16,"title":null}}}},
    {"data":{"name":"stats"},"transform":[{"filter":"datum.task == 'W' && datum.snr == 6"},{"fold":["u","l"],"as":["k","v"]}],"mark":{"type":"rule","color":"#000","strokeDash":[1.5,1.5],"strokeWidth":1.1},"encoding":{"y":{"field":"v","type":"quantitative","scale":{"domain":[-5,9],"nice":false,"zero":false},"axis":{"values":[-5,0,5],"labelExpr":"''+datum.value","ticks":false,"labelPadding":5,"labelFontSize":16,"title":null}}}},
    {"data":{"name":"stats"},"transform":[{"filter":"datum.task == 'W' && datum.snr == 6"}],"mark":{"type":"rule","color":"#000","strokeDash":[6,4],"strokeWidth":1.6},"encoding":{"y":{"field":"bias","type":"quantitative","scale":{"domain":[-5,9],"nice":false,"zero":false},"axis":{"values":[-5,0,5],"labelExpr":"''+datum.value","ticks":false,"labelPadding":5,"labelFontSize":16,"title":null}}}},
    {"data":{"name":"pairs"},"transform":[{"filter":"datum.task == 'W' && datum.snr == 6"}],"mark":{"type":"circle","size":60,"color":"#000","opacity":1},"encoding":{"x":{"field":"mean","type":"quantitative","scale":{"domain":[2,10],"nice":false,"zero":false},"axis":{"values":[2,4,6,8,10],"ticks":false,"labelPadding":3,"labelFontSize":16,"title":null}},"y":{"field":"diff","type":"quantitative","scale":{"domain":[-5,9],"nice":false,"zero":false},"axis":{"values":[-5,0,5],"labelExpr":"''+datum.value","ticks":false,"labelPadding":5,"labelFontSize":16,"title":null}}}}
   ]},
  {"width":166,"height":174,"title":{"text":"SNR – 3 dB","fontSize":22,"frame":"group","offset":6},
   "layer":[
    {"data":{"name":"stats"},"transform":[{"filter":"datum.task == 'W' && datum.snr == 3"}],"mark":{"type":"rect","color":"#e3e3f8"},"encoding":{"y":{"field":"uLo","type":"quantitative","scale":{"domain":[-5,9],"nice":false,"zero":false},"axis":{"values":[-5,0,5],"labelExpr":"''+datum.value","ticks":false,"labelPadding":5,"labelFontSize":16,"title":null}},"y2":{"field":"uHi"}}},
    {"data":{"name":"stats"},"transform":[{"filter":"datum.task == 'W' && datum.snr == 3"}],"mark":{"type":"rect","color":"#e3e3f8"},"encoding":{"y":{"field":"bLo","type":"quantitative","scale":{"domain":[-5,9],"nice":false,"zero":false},"axis":{"values":[-5,0,5],"labelExpr":"''+datum.value","ticks":false,"labelPadding":5,"labelFontSize":16,"title":null}},"y2":{"field":"bHi"}}},
    {"data":{"name":"stats"},"transform":[{"filter":"datum.task == 'W' && datum.snr == 3"}],"mark":{"type":"rect","color":"#e3e3f8"},"encoding":{"y":{"field":"lLo","type":"quantitative","scale":{"domain":[-5,9],"nice":false,"zero":false},"axis":{"values":[-5,0,5],"labelExpr":"''+datum.value","ticks":false,"labelPadding":5,"labelFontSize":16,"title":null}},"y2":{"field":"lHi"}}},
    {"data":{"name":"stats"},"transform":[{"filter":"datum.task == 'W' && datum.snr == 3"}],"mark":{"type":"rule","color":"#b8b8b8","strokeWidth":1},"encoding":{"y":{"datum":0,"type":"quantitative","scale":{"domain":[-5,9],"nice":false,"zero":false},"axis":{"values":[-5,0,5],"labelExpr":"''+datum.value","ticks":false,"labelPadding":5,"labelFontSize":16,"title":null}}}},
    {"data":{"name":"stats"},"transform":[{"filter":"datum.task == 'W' && datum.snr == 3"},{"fold":["uLo","uHi","bLo","bHi","lLo","lHi"],"as":["k","v"]}],"mark":{"type":"rule","color":"#5a5a5a","strokeWidth":0.9},"encoding":{"y":{"field":"v","type":"quantitative","scale":{"domain":[-5,9],"nice":false,"zero":false},"axis":{"values":[-5,0,5],"labelExpr":"''+datum.value","ticks":false,"labelPadding":5,"labelFontSize":16,"title":null}}}},
    {"data":{"name":"stats"},"transform":[{"filter":"datum.task == 'W' && datum.snr == 3"},{"fold":["u","l"],"as":["k","v"]}],"mark":{"type":"rule","color":"#000","strokeDash":[1.5,1.5],"strokeWidth":1.1},"encoding":{"y":{"field":"v","type":"quantitative","scale":{"domain":[-5,9],"nice":false,"zero":false},"axis":{"values":[-5,0,5],"labelExpr":"''+datum.value","ticks":false,"labelPadding":5,"labelFontSize":16,"title":null}}}},
    {"data":{"name":"stats"},"transform":[{"filter":"datum.task == 'W' && datum.snr == 3"}],"mark":{"type":"rule","color":"#000","strokeDash":[6,4],"strokeWidth":1.6},"encoding":{"y":{"field":"bias","type":"quantitative","scale":{"domain":[-5,9],"nice":false,"zero":false},"axis":{"values":[-5,0,5],"labelExpr":"''+datum.value","ticks":false,"labelPadding":5,"labelFontSize":16,"title":null}}}},
    {"data":{"name":"pairs"},"transform":[{"filter":"datum.task == 'W' && datum.snr == 3"}],"mark":{"type":"circle","size":60,"color":"#000","opacity":1},"encoding":{"x":{"field":"mean","type":"quantitative","scale":{"domain":[1,10],"nice":false,"zero":false},"axis":{"values":[2,4,6,8,10],"ticks":false,"labelPadding":3,"labelFontSize":16,"title":null}},"y":{"field":"diff","type":"quantitative","scale":{"domain":[-5,9],"nice":false,"zero":false},"axis":{"values":[-5,0,5],"labelExpr":"''+datum.value","ticks":false,"labelPadding":5,"labelFontSize":16,"title":null}}}}
   ]},
  {"width":166,"height":174,"title":{"text":"SNR 0 dB","fontSize":22,"frame":"group","offset":6},
   "layer":[
    {"data":{"name":"stats"},"transform":[{"filter":"datum.task == 'W' && datum.snr == 0"}],"mark":{"type":"rect","color":"#f9e5f7"},"encoding":{"y":{"field":"uLo","type":"quantitative","scale":{"domain":[-5,9],"nice":false,"zero":false},"axis":{"values":[-5,0,5],"labelExpr":"''+datum.value","ticks":false,"labelPadding":5,"labelFontSize":16,"title":null}},"y2":{"field":"uHi"}}},
    {"data":{"name":"stats"},"transform":[{"filter":"datum.task == 'W' && datum.snr == 0"}],"mark":{"type":"rect","color":"#f9e5f7"},"encoding":{"y":{"field":"bLo","type":"quantitative","scale":{"domain":[-5,9],"nice":false,"zero":false},"axis":{"values":[-5,0,5],"labelExpr":"''+datum.value","ticks":false,"labelPadding":5,"labelFontSize":16,"title":null}},"y2":{"field":"bHi"}}},
    {"data":{"name":"stats"},"transform":[{"filter":"datum.task == 'W' && datum.snr == 0"}],"mark":{"type":"rect","color":"#f9e5f7"},"encoding":{"y":{"field":"lLo","type":"quantitative","scale":{"domain":[-5,9],"nice":false,"zero":false},"axis":{"values":[-5,0,5],"labelExpr":"''+datum.value","ticks":false,"labelPadding":5,"labelFontSize":16,"title":null}},"y2":{"field":"lHi"}}},
    {"data":{"name":"stats"},"transform":[{"filter":"datum.task == 'W' && datum.snr == 0"}],"mark":{"type":"rule","color":"#b8b8b8","strokeWidth":1},"encoding":{"y":{"datum":0,"type":"quantitative","scale":{"domain":[-5,9],"nice":false,"zero":false},"axis":{"values":[-5,0,5],"labelExpr":"''+datum.value","ticks":false,"labelPadding":5,"labelFontSize":16,"title":null}}}},
    {"data":{"name":"stats"},"transform":[{"filter":"datum.task == 'W' && datum.snr == 0"},{"fold":["uLo","uHi","bLo","bHi","lLo","lHi"],"as":["k","v"]}],"mark":{"type":"rule","color":"#5a5a5a","strokeWidth":0.9},"encoding":{"y":{"field":"v","type":"quantitative","scale":{"domain":[-5,9],"nice":false,"zero":false},"axis":{"values":[-5,0,5],"labelExpr":"''+datum.value","ticks":false,"labelPadding":5,"labelFontSize":16,"title":null}}}},
    {"data":{"name":"stats"},"transform":[{"filter":"datum.task == 'W' && datum.snr == 0"},{"fold":["u","l"],"as":["k","v"]}],"mark":{"type":"rule","color":"#000","strokeDash":[1.5,1.5],"strokeWidth":1.1},"encoding":{"y":{"field":"v","type":"quantitative","scale":{"domain":[-5,9],"nice":false,"zero":false},"axis":{"values":[-5,0,5],"labelExpr":"''+datum.value","ticks":false,"labelPadding":5,"labelFontSize":16,"title":null}}}},
    {"data":{"name":"stats"},"transform":[{"filter":"datum.task == 'W' && datum.snr == 0"}],"mark":{"type":"rule","color":"#000","strokeDash":[6,4],"strokeWidth":1.6},"encoding":{"y":{"field":"bias","type":"quantitative","scale":{"domain":[-5,9],"nice":false,"zero":false},"axis":{"values":[-5,0,5],"labelExpr":"''+datum.value","ticks":false,"labelPadding":5,"labelFontSize":16,"title":null}}}},
    {"data":{"name":"pairs"},"transform":[{"filter":"datum.task == 'W' && datum.snr == 0"}],"mark":{"type":"circle","size":60,"color":"#000","opacity":1},"encoding":{"x":{"field":"mean","type":"quantitative","scale":{"domain":[1,10],"nice":false,"zero":false},"axis":{"values":[2,4,6,8,10],"ticks":false,"labelPadding":3,"labelFontSize":16,"title":null}},"y":{"field":"diff","type":"quantitative","scale":{"domain":[-5,9],"nice":false,"zero":false},"axis":{"values":[-5,0,5],"labelExpr":"''+datum.value","ticks":false,"labelPadding":5,"labelFontSize":16,"title":null}}}}
   ]}
  ]},
 {"spacing":48,
  "title":{"text":"Sentences","orient":"left","angle":0,"align":"left","baseline":"middle","anchor":"middle","fontSize":27,"offset":6},
  "hconcat":[
  {"width":166,"height":174,
   "layer":[
    {"data":{"name":"stats"},"transform":[{"filter":"datum.task == 'S' && datum.snr == 9"}],"mark":{"type":"rect","color":"#e3f5df"},"encoding":{"y":{"field":"uLo","type":"quantitative","scale":{"domain":[-5,9],"nice":false,"zero":false},"axis":{"values":[-5,0,5],"labelExpr":"''+datum.value","ticks":false,"labelPadding":5,"labelFontSize":16,"title":"Difference","titleFontSize":22,"titlePadding":10}},"y2":{"field":"uHi"}}},
    {"data":{"name":"stats"},"transform":[{"filter":"datum.task == 'S' && datum.snr == 9"}],"mark":{"type":"rect","color":"#e3f5df"},"encoding":{"y":{"field":"bLo","type":"quantitative","scale":{"domain":[-5,9],"nice":false,"zero":false},"axis":{"values":[-5,0,5],"labelExpr":"''+datum.value","ticks":false,"labelPadding":5,"labelFontSize":16,"title":"Difference","titleFontSize":22,"titlePadding":10}},"y2":{"field":"bHi"}}},
    {"data":{"name":"stats"},"transform":[{"filter":"datum.task == 'S' && datum.snr == 9"}],"mark":{"type":"rect","color":"#e3f5df"},"encoding":{"y":{"field":"lLo","type":"quantitative","scale":{"domain":[-5,9],"nice":false,"zero":false},"axis":{"values":[-5,0,5],"labelExpr":"''+datum.value","ticks":false,"labelPadding":5,"labelFontSize":16,"title":"Difference","titleFontSize":22,"titlePadding":10}},"y2":{"field":"lHi"}}},
    {"data":{"name":"stats"},"transform":[{"filter":"datum.task == 'S' && datum.snr == 9"}],"mark":{"type":"rule","color":"#b8b8b8","strokeWidth":1},"encoding":{"y":{"datum":0,"type":"quantitative","scale":{"domain":[-5,9],"nice":false,"zero":false},"axis":{"values":[-5,0,5],"labelExpr":"''+datum.value","ticks":false,"labelPadding":5,"labelFontSize":16,"title":"Difference","titleFontSize":22,"titlePadding":10}}}},
    {"data":{"name":"stats"},"transform":[{"filter":"datum.task == 'S' && datum.snr == 9"},{"fold":["uLo","uHi","bLo","bHi","lLo","lHi"],"as":["k","v"]}],"mark":{"type":"rule","color":"#5a5a5a","strokeWidth":0.9},"encoding":{"y":{"field":"v","type":"quantitative","scale":{"domain":[-5,9],"nice":false,"zero":false},"axis":{"values":[-5,0,5],"labelExpr":"''+datum.value","ticks":false,"labelPadding":5,"labelFontSize":16,"title":"Difference","titleFontSize":22,"titlePadding":10}}}},
    {"data":{"name":"stats"},"transform":[{"filter":"datum.task == 'S' && datum.snr == 9"},{"fold":["u","l"],"as":["k","v"]}],"mark":{"type":"rule","color":"#000","strokeDash":[1.5,1.5],"strokeWidth":1.1},"encoding":{"y":{"field":"v","type":"quantitative","scale":{"domain":[-5,9],"nice":false,"zero":false},"axis":{"values":[-5,0,5],"labelExpr":"''+datum.value","ticks":false,"labelPadding":5,"labelFontSize":16,"title":"Difference","titleFontSize":22,"titlePadding":10}}}},
    {"data":{"name":"stats"},"transform":[{"filter":"datum.task == 'S' && datum.snr == 9"}],"mark":{"type":"rule","color":"#000","strokeDash":[6,4],"strokeWidth":1.6},"encoding":{"y":{"field":"bias","type":"quantitative","scale":{"domain":[-5,9],"nice":false,"zero":false},"axis":{"values":[-5,0,5],"labelExpr":"''+datum.value","ticks":false,"labelPadding":5,"labelFontSize":16,"title":"Difference","titleFontSize":22,"titlePadding":10}}}},
    {"data":{"name":"pairs"},"transform":[{"filter":"datum.task == 'S' && datum.snr == 9"}],"mark":{"type":"circle","size":60,"color":"#000","opacity":1},"encoding":{"x":{"field":"mean","type":"quantitative","scale":{"domain":[5,10],"nice":false,"zero":false},"axis":{"values":[6,8,10],"ticks":false,"labelPadding":3,"labelFontSize":16,"title":"Mean","titleFontSize":23,"titlePadding":2}},"y":{"field":"diff","type":"quantitative","scale":{"domain":[-5,9],"nice":false,"zero":false},"axis":{"values":[-5,0,5],"labelExpr":"''+datum.value","ticks":false,"labelPadding":5,"labelFontSize":16,"title":"Difference","titleFontSize":22,"titlePadding":10}}}}
   ]},
  {"width":166,"height":174,
   "layer":[
    {"data":{"name":"stats"},"transform":[{"filter":"datum.task == 'S' && datum.snr == 6"}],"mark":{"type":"rect","color":"#fbe3e3"},"encoding":{"y":{"field":"uLo","type":"quantitative","scale":{"domain":[-5,9],"nice":false,"zero":false},"axis":{"values":[-5,0,5],"labelExpr":"''+datum.value","ticks":false,"labelPadding":5,"labelFontSize":16,"title":null}},"y2":{"field":"uHi"}}},
    {"data":{"name":"stats"},"transform":[{"filter":"datum.task == 'S' && datum.snr == 6"}],"mark":{"type":"rect","color":"#fbe3e3"},"encoding":{"y":{"field":"bLo","type":"quantitative","scale":{"domain":[-5,9],"nice":false,"zero":false},"axis":{"values":[-5,0,5],"labelExpr":"''+datum.value","ticks":false,"labelPadding":5,"labelFontSize":16,"title":null}},"y2":{"field":"bHi"}}},
    {"data":{"name":"stats"},"transform":[{"filter":"datum.task == 'S' && datum.snr == 6"}],"mark":{"type":"rect","color":"#fbe3e3"},"encoding":{"y":{"field":"lLo","type":"quantitative","scale":{"domain":[-5,9],"nice":false,"zero":false},"axis":{"values":[-5,0,5],"labelExpr":"''+datum.value","ticks":false,"labelPadding":5,"labelFontSize":16,"title":null}},"y2":{"field":"lHi"}}},
    {"data":{"name":"stats"},"transform":[{"filter":"datum.task == 'S' && datum.snr == 6"}],"mark":{"type":"rule","color":"#b8b8b8","strokeWidth":1},"encoding":{"y":{"datum":0,"type":"quantitative","scale":{"domain":[-5,9],"nice":false,"zero":false},"axis":{"values":[-5,0,5],"labelExpr":"''+datum.value","ticks":false,"labelPadding":5,"labelFontSize":16,"title":null}}}},
    {"data":{"name":"stats"},"transform":[{"filter":"datum.task == 'S' && datum.snr == 6"},{"fold":["uLo","uHi","bLo","bHi","lLo","lHi"],"as":["k","v"]}],"mark":{"type":"rule","color":"#5a5a5a","strokeWidth":0.9},"encoding":{"y":{"field":"v","type":"quantitative","scale":{"domain":[-5,9],"nice":false,"zero":false},"axis":{"values":[-5,0,5],"labelExpr":"''+datum.value","ticks":false,"labelPadding":5,"labelFontSize":16,"title":null}}}},
    {"data":{"name":"stats"},"transform":[{"filter":"datum.task == 'S' && datum.snr == 6"},{"fold":["u","l"],"as":["k","v"]}],"mark":{"type":"rule","color":"#000","strokeDash":[1.5,1.5],"strokeWidth":1.1},"encoding":{"y":{"field":"v","type":"quantitative","scale":{"domain":[-5,9],"nice":false,"zero":false},"axis":{"values":[-5,0,5],"labelExpr":"''+datum.value","ticks":false,"labelPadding":5,"labelFontSize":16,"title":null}}}},
    {"data":{"name":"stats"},"transform":[{"filter":"datum.task == 'S' && datum.snr == 6"}],"mark":{"type":"rule","color":"#000","strokeDash":[6,4],"strokeWidth":1.6},"encoding":{"y":{"field":"bias","type":"quantitative","scale":{"domain":[-5,9],"nice":false,"zero":false},"axis":{"values":[-5,0,5],"labelExpr":"''+datum.value","ticks":false,"labelPadding":5,"labelFontSize":16,"title":null}}}},
    {"data":{"name":"pairs"},"transform":[{"filter":"datum.task == 'S' && datum.snr == 6"}],"mark":{"type":"circle","size":60,"color":"#000","opacity":1},"encoding":{"x":{"field":"mean","type":"quantitative","scale":{"domain":[2,10],"nice":false,"zero":false},"axis":{"values":[2,4,6,8,10],"ticks":false,"labelPadding":3,"labelFontSize":16,"title":"Mean","titleFontSize":23,"titlePadding":2}},"y":{"field":"diff","type":"quantitative","scale":{"domain":[-5,9],"nice":false,"zero":false},"axis":{"values":[-5,0,5],"labelExpr":"''+datum.value","ticks":false,"labelPadding":5,"labelFontSize":16,"title":null}}}}
   ]},
  {"width":166,"height":174,
   "layer":[
    {"data":{"name":"stats"},"transform":[{"filter":"datum.task == 'S' && datum.snr == 3"}],"mark":{"type":"rect","color":"#e3e3f8"},"encoding":{"y":{"field":"uLo","type":"quantitative","scale":{"domain":[-5,9],"nice":false,"zero":false},"axis":{"values":[-5,0,5],"labelExpr":"''+datum.value","ticks":false,"labelPadding":5,"labelFontSize":16,"title":null}},"y2":{"field":"uHi"}}},
    {"data":{"name":"stats"},"transform":[{"filter":"datum.task == 'S' && datum.snr == 3"}],"mark":{"type":"rect","color":"#e3e3f8"},"encoding":{"y":{"field":"bLo","type":"quantitative","scale":{"domain":[-5,9],"nice":false,"zero":false},"axis":{"values":[-5,0,5],"labelExpr":"''+datum.value","ticks":false,"labelPadding":5,"labelFontSize":16,"title":null}},"y2":{"field":"bHi"}}},
    {"data":{"name":"stats"},"transform":[{"filter":"datum.task == 'S' && datum.snr == 3"}],"mark":{"type":"rect","color":"#e3e3f8"},"encoding":{"y":{"field":"lLo","type":"quantitative","scale":{"domain":[-5,9],"nice":false,"zero":false},"axis":{"values":[-5,0,5],"labelExpr":"''+datum.value","ticks":false,"labelPadding":5,"labelFontSize":16,"title":null}},"y2":{"field":"lHi"}}},
    {"data":{"name":"stats"},"transform":[{"filter":"datum.task == 'S' && datum.snr == 3"}],"mark":{"type":"rule","color":"#b8b8b8","strokeWidth":1},"encoding":{"y":{"datum":0,"type":"quantitative","scale":{"domain":[-5,9],"nice":false,"zero":false},"axis":{"values":[-5,0,5],"labelExpr":"''+datum.value","ticks":false,"labelPadding":5,"labelFontSize":16,"title":null}}}},
    {"data":{"name":"stats"},"transform":[{"filter":"datum.task == 'S' && datum.snr == 3"},{"fold":["uLo","uHi","bLo","bHi","lLo","lHi"],"as":["k","v"]}],"mark":{"type":"rule","color":"#5a5a5a","strokeWidth":0.9},"encoding":{"y":{"field":"v","type":"quantitative","scale":{"domain":[-5,9],"nice":false,"zero":false},"axis":{"values":[-5,0,5],"labelExpr":"''+datum.value","ticks":false,"labelPadding":5,"labelFontSize":16,"title":null}}}},
    {"data":{"name":"stats"},"transform":[{"filter":"datum.task == 'S' && datum.snr == 3"},{"fold":["u","l"],"as":["k","v"]}],"mark":{"type":"rule","color":"#000","strokeDash":[1.5,1.5],"strokeWidth":1.1},"encoding":{"y":{"field":"v","type":"quantitative","scale":{"domain":[-5,9],"nice":false,"zero":false},"axis":{"values":[-5,0,5],"labelExpr":"''+datum.value","ticks":false,"labelPadding":5,"labelFontSize":16,"title":null}}}},
    {"data":{"name":"stats"},"transform":[{"filter":"datum.task == 'S' && datum.snr == 3"}],"mark":{"type":"rule","color":"#000","strokeDash":[6,4],"strokeWidth":1.6},"encoding":{"y":{"field":"bias","type":"quantitative","scale":{"domain":[-5,9],"nice":false,"zero":false},"axis":{"values":[-5,0,5],"labelExpr":"''+datum.value","ticks":false,"labelPadding":5,"labelFontSize":16,"title":null}}}},
    {"data":{"name":"pairs"},"transform":[{"filter":"datum.task == 'S' && datum.snr == 3"}],"mark":{"type":"circle","size":60,"color":"#000","opacity":1},"encoding":{"x":{"field":"mean","type":"quantitative","scale":{"domain":[1,10],"nice":false,"zero":false},"axis":{"values":[2,4,6,8,10],"ticks":false,"labelPadding":3,"labelFontSize":16,"title":"Mean","titleFontSize":23,"titlePadding":2}},"y":{"field":"diff","type":"quantitative","scale":{"domain":[-5,9],"nice":false,"zero":false},"axis":{"values":[-5,0,5],"labelExpr":"''+datum.value","ticks":false,"labelPadding":5,"labelFontSize":16,"title":null}}}}
   ]},
  {"width":166,"height":174,
   "layer":[
    {"data":{"name":"stats"},"transform":[{"filter":"datum.task == 'S' && datum.snr == 0"}],"mark":{"type":"rect","color":"#f9e5f7"},"encoding":{"y":{"field":"uLo","type":"quantitative","scale":{"domain":[-5,9],"nice":false,"zero":false},"axis":{"values":[-5,0,5],"labelExpr":"''+datum.value","ticks":false,"labelPadding":5,"labelFontSize":16,"title":null}},"y2":{"field":"uHi"}}},
    {"data":{"name":"stats"},"transform":[{"filter":"datum.task == 'S' && datum.snr == 0"}],"mark":{"type":"rect","color":"#f9e5f7"},"encoding":{"y":{"field":"bLo","type":"quantitative","scale":{"domain":[-5,9],"nice":false,"zero":false},"axis":{"values":[-5,0,5],"labelExpr":"''+datum.value","ticks":false,"labelPadding":5,"labelFontSize":16,"title":null}},"y2":{"field":"bHi"}}},
    {"data":{"name":"stats"},"transform":[{"filter":"datum.task == 'S' && datum.snr == 0"}],"mark":{"type":"rect","color":"#f9e5f7"},"encoding":{"y":{"field":"lLo","type":"quantitative","scale":{"domain":[-5,9],"nice":false,"zero":false},"axis":{"values":[-5,0,5],"labelExpr":"''+datum.value","ticks":false,"labelPadding":5,"labelFontSize":16,"title":null}},"y2":{"field":"lHi"}}},
    {"data":{"name":"stats"},"transform":[{"filter":"datum.task == 'S' && datum.snr == 0"}],"mark":{"type":"rule","color":"#b8b8b8","strokeWidth":1},"encoding":{"y":{"datum":0,"type":"quantitative","scale":{"domain":[-5,9],"nice":false,"zero":false},"axis":{"values":[-5,0,5],"labelExpr":"''+datum.value","ticks":false,"labelPadding":5,"labelFontSize":16,"title":null}}}},
    {"data":{"name":"stats"},"transform":[{"filter":"datum.task == 'S' && datum.snr == 0"},{"fold":["uLo","uHi","bLo","bHi","lLo","lHi"],"as":["k","v"]}],"mark":{"type":"rule","color":"#5a5a5a","strokeWidth":0.9},"encoding":{"y":{"field":"v","type":"quantitative","scale":{"domain":[-5,9],"nice":false,"zero":false},"axis":{"values":[-5,0,5],"labelExpr":"''+datum.value","ticks":false,"labelPadding":5,"labelFontSize":16,"title":null}}}},
    {"data":{"name":"stats"},"transform":[{"filter":"datum.task == 'S' && datum.snr == 0"},{"fold":["u","l"],"as":["k","v"]}],"mark":{"type":"rule","color":"#000","strokeDash":[1.5,1.5],"strokeWidth":1.1},"encoding":{"y":{"field":"v","type":"quantitative","scale":{"domain":[-5,9],"nice":false,"zero":false},"axis":{"values":[-5,0,5],"labelExpr":"''+datum.value","ticks":false,"labelPadding":5,"labelFontSize":16,"title":null}}}},
    {"data":{"name":"stats"},"transform":[{"filter":"datum.task == 'S' && datum.snr == 0"}],"mark":{"type":"rule","color":"#000","strokeDash":[6,4],"strokeWidth":1.6},"encoding":{"y":{"field":"bias","type":"quantitative","scale":{"domain":[-5,9],"nice":false,"zero":false},"axis":{"values":[-5,0,5],"labelExpr":"''+datum.value","ticks":false,"labelPadding":5,"labelFontSize":16,"title":null}}}},
    {"data":{"name":"pairs"},"transform":[{"filter":"datum.task == 'S' && datum.snr == 0"}],"mark":{"type":"circle","size":60,"color":"#000","opacity":1},"encoding":{"x":{"field":"mean","type":"quantitative","scale":{"domain":[1,10],"nice":false,"zero":false},"axis":{"values":[2,4,6,8,10],"ticks":false,"labelPadding":3,"labelFontSize":16,"title":"Mean","titleFontSize":23,"titlePadding":2}},"y":{"field":"diff","type":"quantitative","scale":{"domain":[-5,9],"nice":false,"zero":false},"axis":{"values":[-5,0,5],"labelExpr":"''+datum.value","ticks":false,"labelPadding":5,"labelFontSize":16,"title":null}}}}
   ]}
  ]}
 ]}
]
}
